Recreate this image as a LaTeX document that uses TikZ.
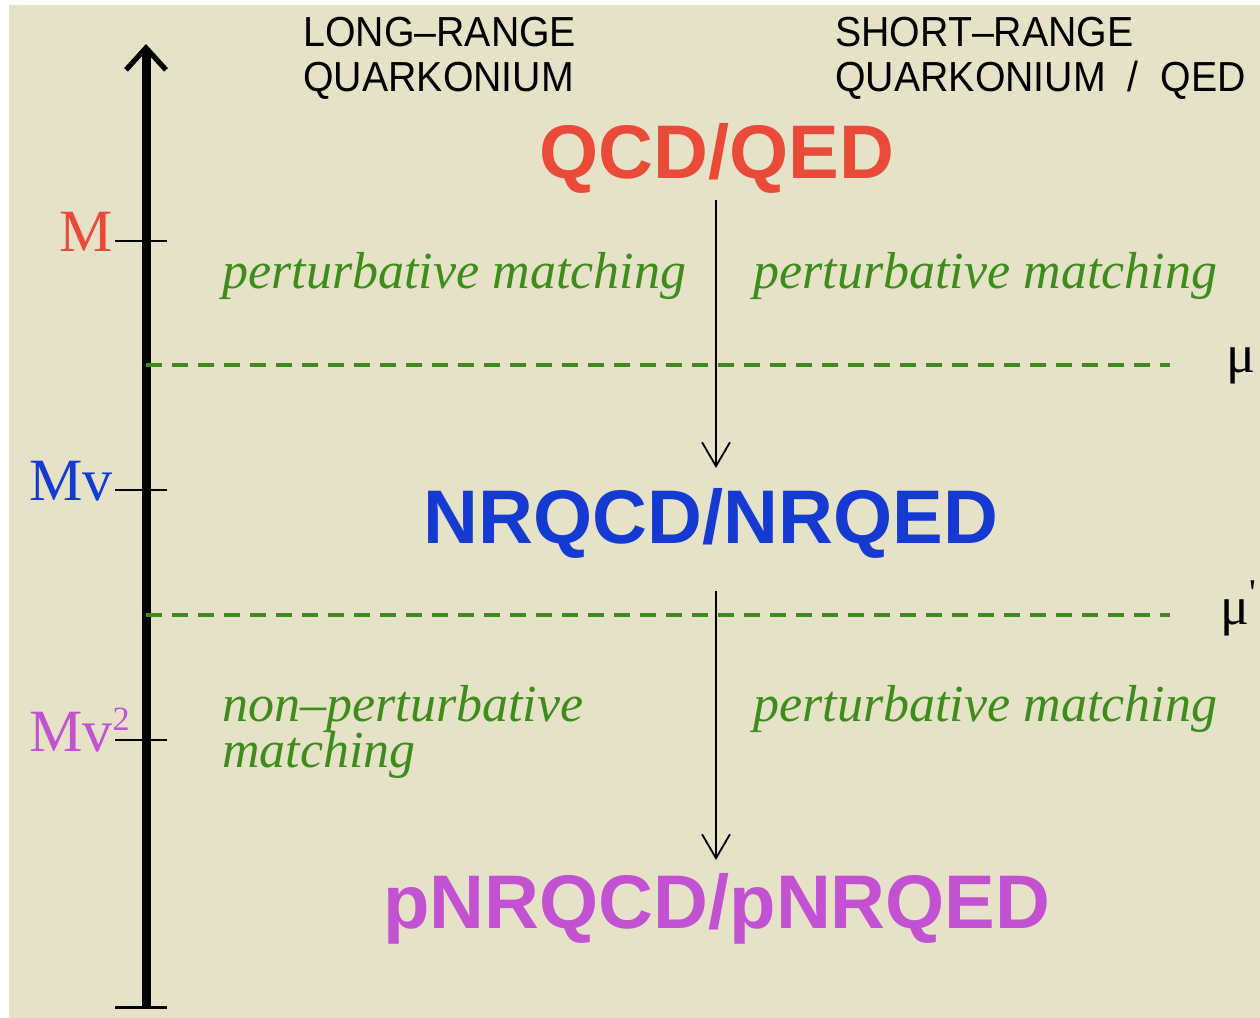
\documentclass[tikz,border=0pt]{standalone}
\usepackage{fontspec}
\setmainfont{Liberation Serif}
\setsansfont{Liberation Sans}
\newfontfamily\narrowsans[FakeStretch=0.935]{Liberation Sans}
\usetikzlibrary{arrows.meta}

\definecolor{paper}{RGB}{230,226,200}
\definecolor{qcdred}{RGB}{234,74,56}
\definecolor{nrblue}{RGB}{20,58,210}
\definecolor{pnrpurple}{RGB}{194,82,210}
\definecolor{matchgreen}{RGB}{62,140,28}

\begin{document}
\begin{tikzpicture}[
      x=0.5pt, y=-0.5pt,
      theory/.style={font=\sffamily\bfseries\fontsize{38}{40}\selectfont, inner sep=0pt, anchor=base},
      header/.style={font=\narrowsans\fontsize{21}{22.5}\selectfont, align=left, inner sep=0pt, anchor=north west},
      matching/.style={font=\itshape\fontsize{26}{22.5}\selectfont, text=matchgreen, inner sep=0pt, anchor=base west, align=left},
      scalelabel/.style={font=\fontsize{30}{30}\selectfont, inner sep=0pt, anchor=base east},
      cutoff/.style={font=\fontsize{27}{27}\selectfont, inner sep=0pt, anchor=base west},
      tick/.style={line width=1pt},
      separation/.style={matchgreen, line width=2pt, dash pattern=on 8pt off 5pt},
      flow/.style={line width=0.9pt, -{Straight Barb[length=12pt, width=14pt, line width=0.9pt]}},
  ]
    % background
    \useasboundingbox (0,0) rectangle (1260,1018);
    \fill[paper] (9,5) rectangle (1260,1018);

    % energy axis
    \coordinate (axisbottom) at (146,1007);
    \coordinate (axistop) at (146,44);
    \coordinate (barleft) at (115,1007);
    \coordinate (barright) at (167,1007);
    \draw[line width=1.5pt] (barleft) -- (barright);
    \draw[line width=4.5pt, -{Straight Barb[length=11pt, width=20pt, line width=2.6pt]}]
      (axisbottom) -- (axistop);

    % scales
    \foreach \y/\name in {241/m, 490/mv, 740/mvv} {
      \coordinate (\name left) at (115,\y);
      \coordinate (\name right) at (167,\y);
      \draw[tick] (\name left) -- (\name right);
    }
    \node[scalelabel, text=qcdred] (mlabel) at (113,251) {M};
    \node[scalelabel, text=nrblue] (mvlabel) at (113,500) {Mv};
    \node[scalelabel, text=pnrpurple] (mvvlabel) at (113,751)
      {Mv\rlap{\raisebox{10.5pt}{\fontsize{17}{17}\selectfont 2}}};

    % headers
    \node[header] (longrange) at (303,17) {LONG–RANGE\\QUARKONIUM};
    \node[header] (shortrange) at (835,17) {SHORT–RANGE\\QUARKONIUM~~/~~QED};

    % theories
    \node[theory, text=qcdred] (qcd) at (717,178) {QCD/QED};
    \node[theory, text=nrblue] (nrqcd) at (711,543) {NRQCD/NRQED};
    \node[theory, text=pnrpurple] (pnrqcd) at (717,928) {pNRQCD/pNRQED};

    % matching steps
    \coordinate (flowa) at (716,200);
    \coordinate (flowb) at (716,591);
    \draw[flow] (flowa) -- (flowa |- 0,468);
    \draw[flow] (flowb) -- (flowb |- 0,860);

    \node[matching] (pertleft) at (222,288) {perturbative matching};
    \node[matching] (pertright) at (753,288) {perturbative matching};
    \node[matching] (nonpert) at (222,767) {non–perturbative\\[-2pt]matching};
    \node[matching] (pertlow) at (753,721) {perturbative matching};

    % separation of scales
    \coordinate (cuta) at (146,365);
    \coordinate (cutb) at (146,615);
    \draw[separation] (cuta) -- (cuta -| 1170,0);
    \draw[separation] (cutb) -- (cutb -| 1170,0);
    \node[cutoff] (mua) at (1226,372) {μ};
    \node[cutoff] (mub) at (1220,624) {μ\textsuperscript{\textquotesingle}};
\end{tikzpicture}
\end{document}
